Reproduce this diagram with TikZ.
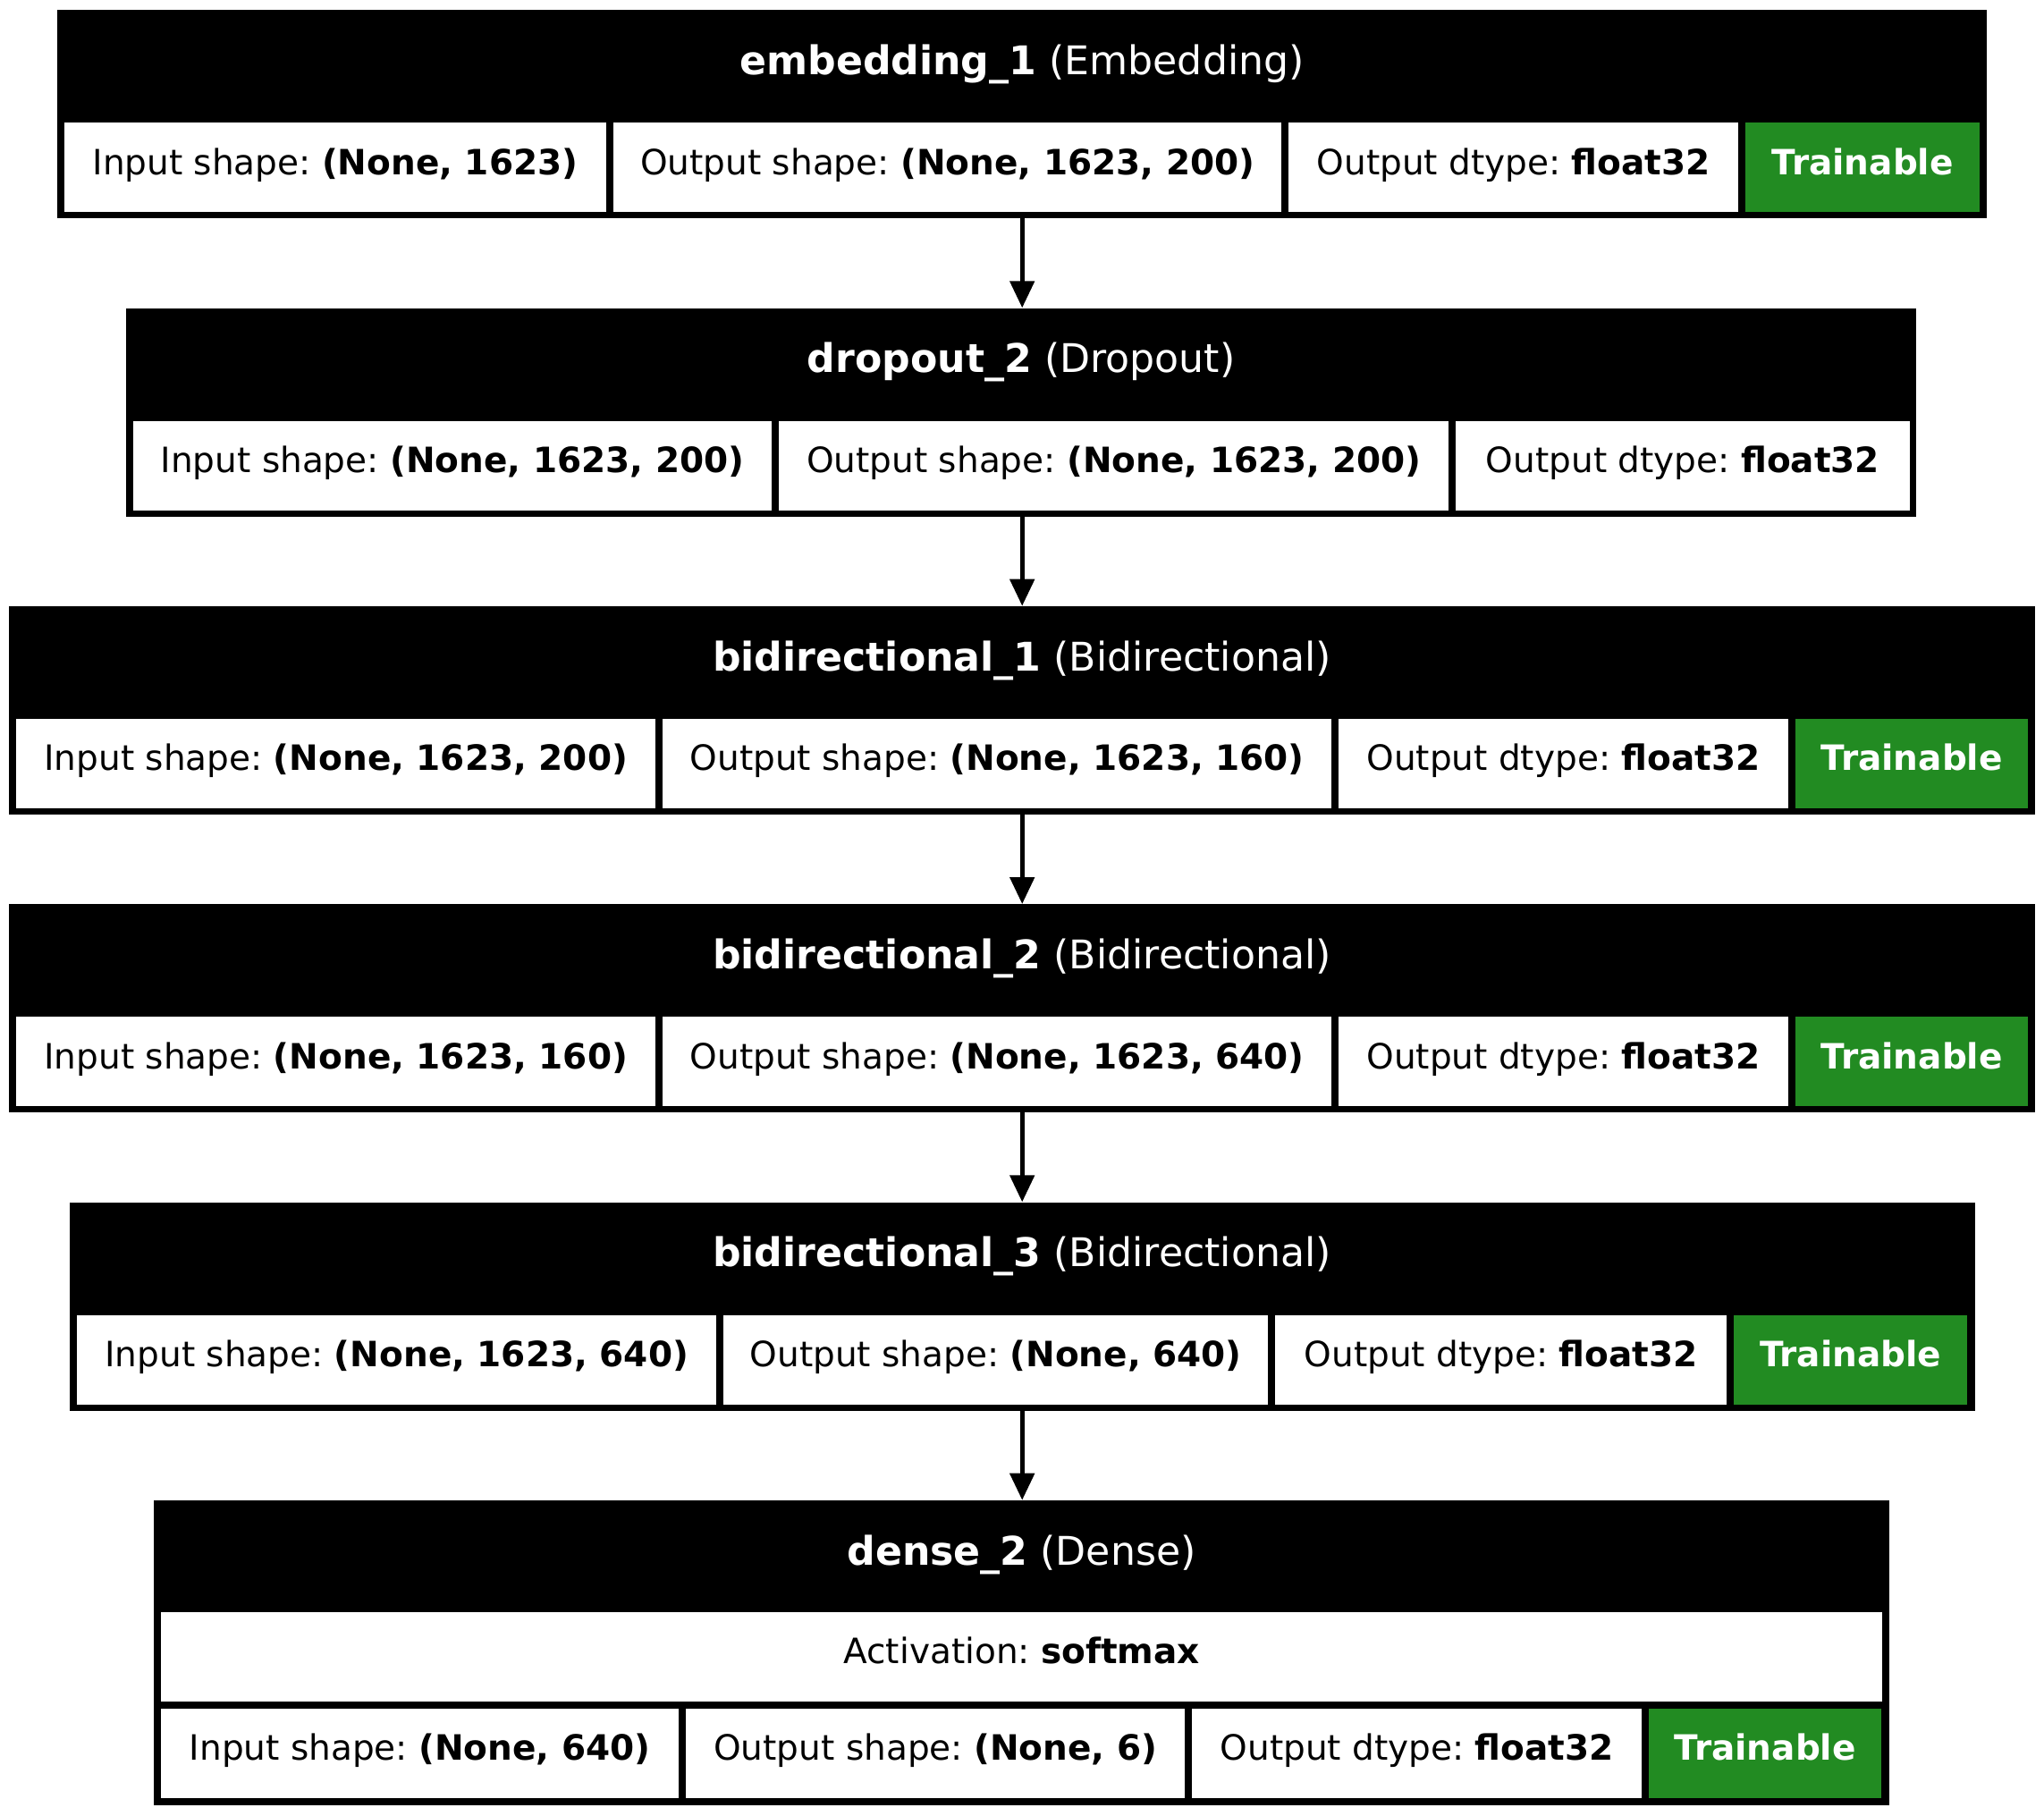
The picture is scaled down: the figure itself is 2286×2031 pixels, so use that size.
\documentclass[tikz,border=0pt]{standalone}
\usepackage{fontspec}
\setmainfont{DejaVu Sans}
\usetikzlibrary{arrows.meta}
\definecolor{trainGreen}{RGB}{34,139,34}
\frenchspacing

\tikzset{
  layerbox/.style={fill=black, inner sep=0pt, anchor=north west, minimum height=233pt},
  cellbox/.style={fill=white, inner sep=0pt, anchor=north west, minimum height=100pt,
    text height=29pt, text depth=13pt, font=\fontsize{39pt}{47pt}\selectfont},
  trainbox/.style={cellbox, fill=trainGreen, text=white, font=\fontsize{39pt}{47pt}\selectfont\bfseries},
  headtext/.style={anchor=base, inner sep=0pt, text=white, font=\fontsize{44.2pt}{53pt}\selectfont},
  flow/.style={line width=5pt, -{Triangle[length=30pt,width=27pt]}}
}

\begin{document}
\begin{tikzpicture}[x=1pt,y=-1pt]
\useasboundingbox (0,0) rectangle (2286,2031);

% embedding_1
\node[layerbox, minimum width=2158pt] (b1) at (64,11) {};
\node[headtext] (b1h) at (1143,83.3) {\textbf{embedding\_1} (Embedding)};
\node[cellbox, minimum width=606.5pt] (b1a) at (71.5,137) {Input shape: \textbf{(None, 1623)}};
\node[cellbox, minimum width=747pt] (b1b) at (686,137) {Output shape: \textbf{(None, 1623, 200)}};
\node[cellbox, minimum width=503pt] (b1c) at (1441,137) {Output dtype: \textbf{float32}};
\node[trainbox, minimum width=262pt] (b1d) at (1952,137) {Trainable};

% dropout_2
\node[layerbox, minimum width=2002pt] (b2) at (141,344.3) {};
\node[headtext] (b2h) at (1142,416.6) {\textbf{dropout\_2} (Dropout)};
\node[cellbox, minimum width=714.5pt] (b2a) at (148.5,470.3) {Input shape: \textbf{(None, 1623, 200)}};
\node[cellbox, minimum width=749pt] (b2b) at (871,470.3) {Output shape: \textbf{(None, 1623, 200)}};
\node[cellbox, minimum width=507.5pt] (b2c) at (1628,470.3) {Output dtype: \textbf{float32}};

% bidirectional_1
\node[layerbox, minimum width=2266pt] (b3) at (10,677.7) {};
\node[headtext] (b3h) at (1143,750) {\textbf{bidirectional\_1} (Bidirectional)};
\node[cellbox, minimum width=715pt] (b3a) at (18,803.7) {Input shape: \textbf{(None, 1623, 200)}};
\node[cellbox, minimum width=748pt] (b3b) at (741,803.7) {Output shape: \textbf{(None, 1623, 160)}};
\node[cellbox, minimum width=502.5pt] (b3c) at (1497,803.7) {Output dtype: \textbf{float32}};
\node[trainbox, minimum width=260pt] (b3d) at (2008,803.7) {Trainable};

% bidirectional_2
\node[layerbox, minimum width=2266pt] (b4) at (10,1011) {};
\node[headtext] (b4h) at (1143,1083.3) {\textbf{bidirectional\_2} (Bidirectional)};
\node[cellbox, minimum width=715pt] (b4a) at (18,1137) {Input shape: \textbf{(None, 1623, 160)}};
\node[cellbox, minimum width=748pt] (b4b) at (741,1137) {Output shape: \textbf{(None, 1623, 640)}};
\node[cellbox, minimum width=502.5pt] (b4c) at (1497,1137) {Output dtype: \textbf{float32}};
\node[trainbox, minimum width=260pt] (b4d) at (2008,1137) {Trainable};

% bidirectional_3
\node[layerbox, minimum width=2130.6pt] (b5) at (77.7,1344.3) {};
\node[headtext] (b5h) at (1143,1416.6) {\textbf{bidirectional\_3} (Bidirectional)};
\node[cellbox, minimum width=715pt] (b5a) at (86,1470.3) {Input shape: \textbf{(None, 1623, 640)}};
\node[cellbox, minimum width=609pt] (b5b) at (809,1470.3) {Output shape: \textbf{(None, 640)}};
\node[cellbox, minimum width=505pt] (b5c) at (1426,1470.3) {Output dtype: \textbf{float32}};
\node[trainbox, minimum width=261pt] (b5d) at (1939,1470.3) {Trainable};

% dense_2
\node[layerbox, minimum width=1941pt, minimum height=341.3pt] (b6) at (172,1677.7) {};
\node[headtext] (b6h) at (1142.5,1750) {\textbf{dense\_2} (Dense)};
\node[cellbox, minimum width=1925pt] (b6act) at (180,1802.7) {Activation: \textbf{softmax}};
\node[cellbox, minimum width=579pt] (b6a) at (180,1910.7) {Input shape: \textbf{(None, 640)}};
\node[cellbox, minimum width=558pt] (b6b) at (767,1910.7) {Output shape: \textbf{(None, 6)}};
\node[cellbox, minimum width=503pt] (b6c) at (1333,1910.7) {Output dtype: \textbf{float32}};
\node[trainbox, minimum width=260pt] (b6d) at (1844,1910.7) {Trainable};

% data flow between layers
\draw[flow] (b1.south) -- (b1.south |- b2.north);
\draw[flow] (b2.south -| b1.south) -- (b1.south |- b3.north);
\draw[flow] (b3.south) -- (b3.south |- b4.north);
\draw[flow] (b4.south) -- (b4.south |- b5.north);
\draw[flow] (b5.south -| b4.south) -- (b4.south |- b6.north);
\end{tikzpicture}
\end{document}
